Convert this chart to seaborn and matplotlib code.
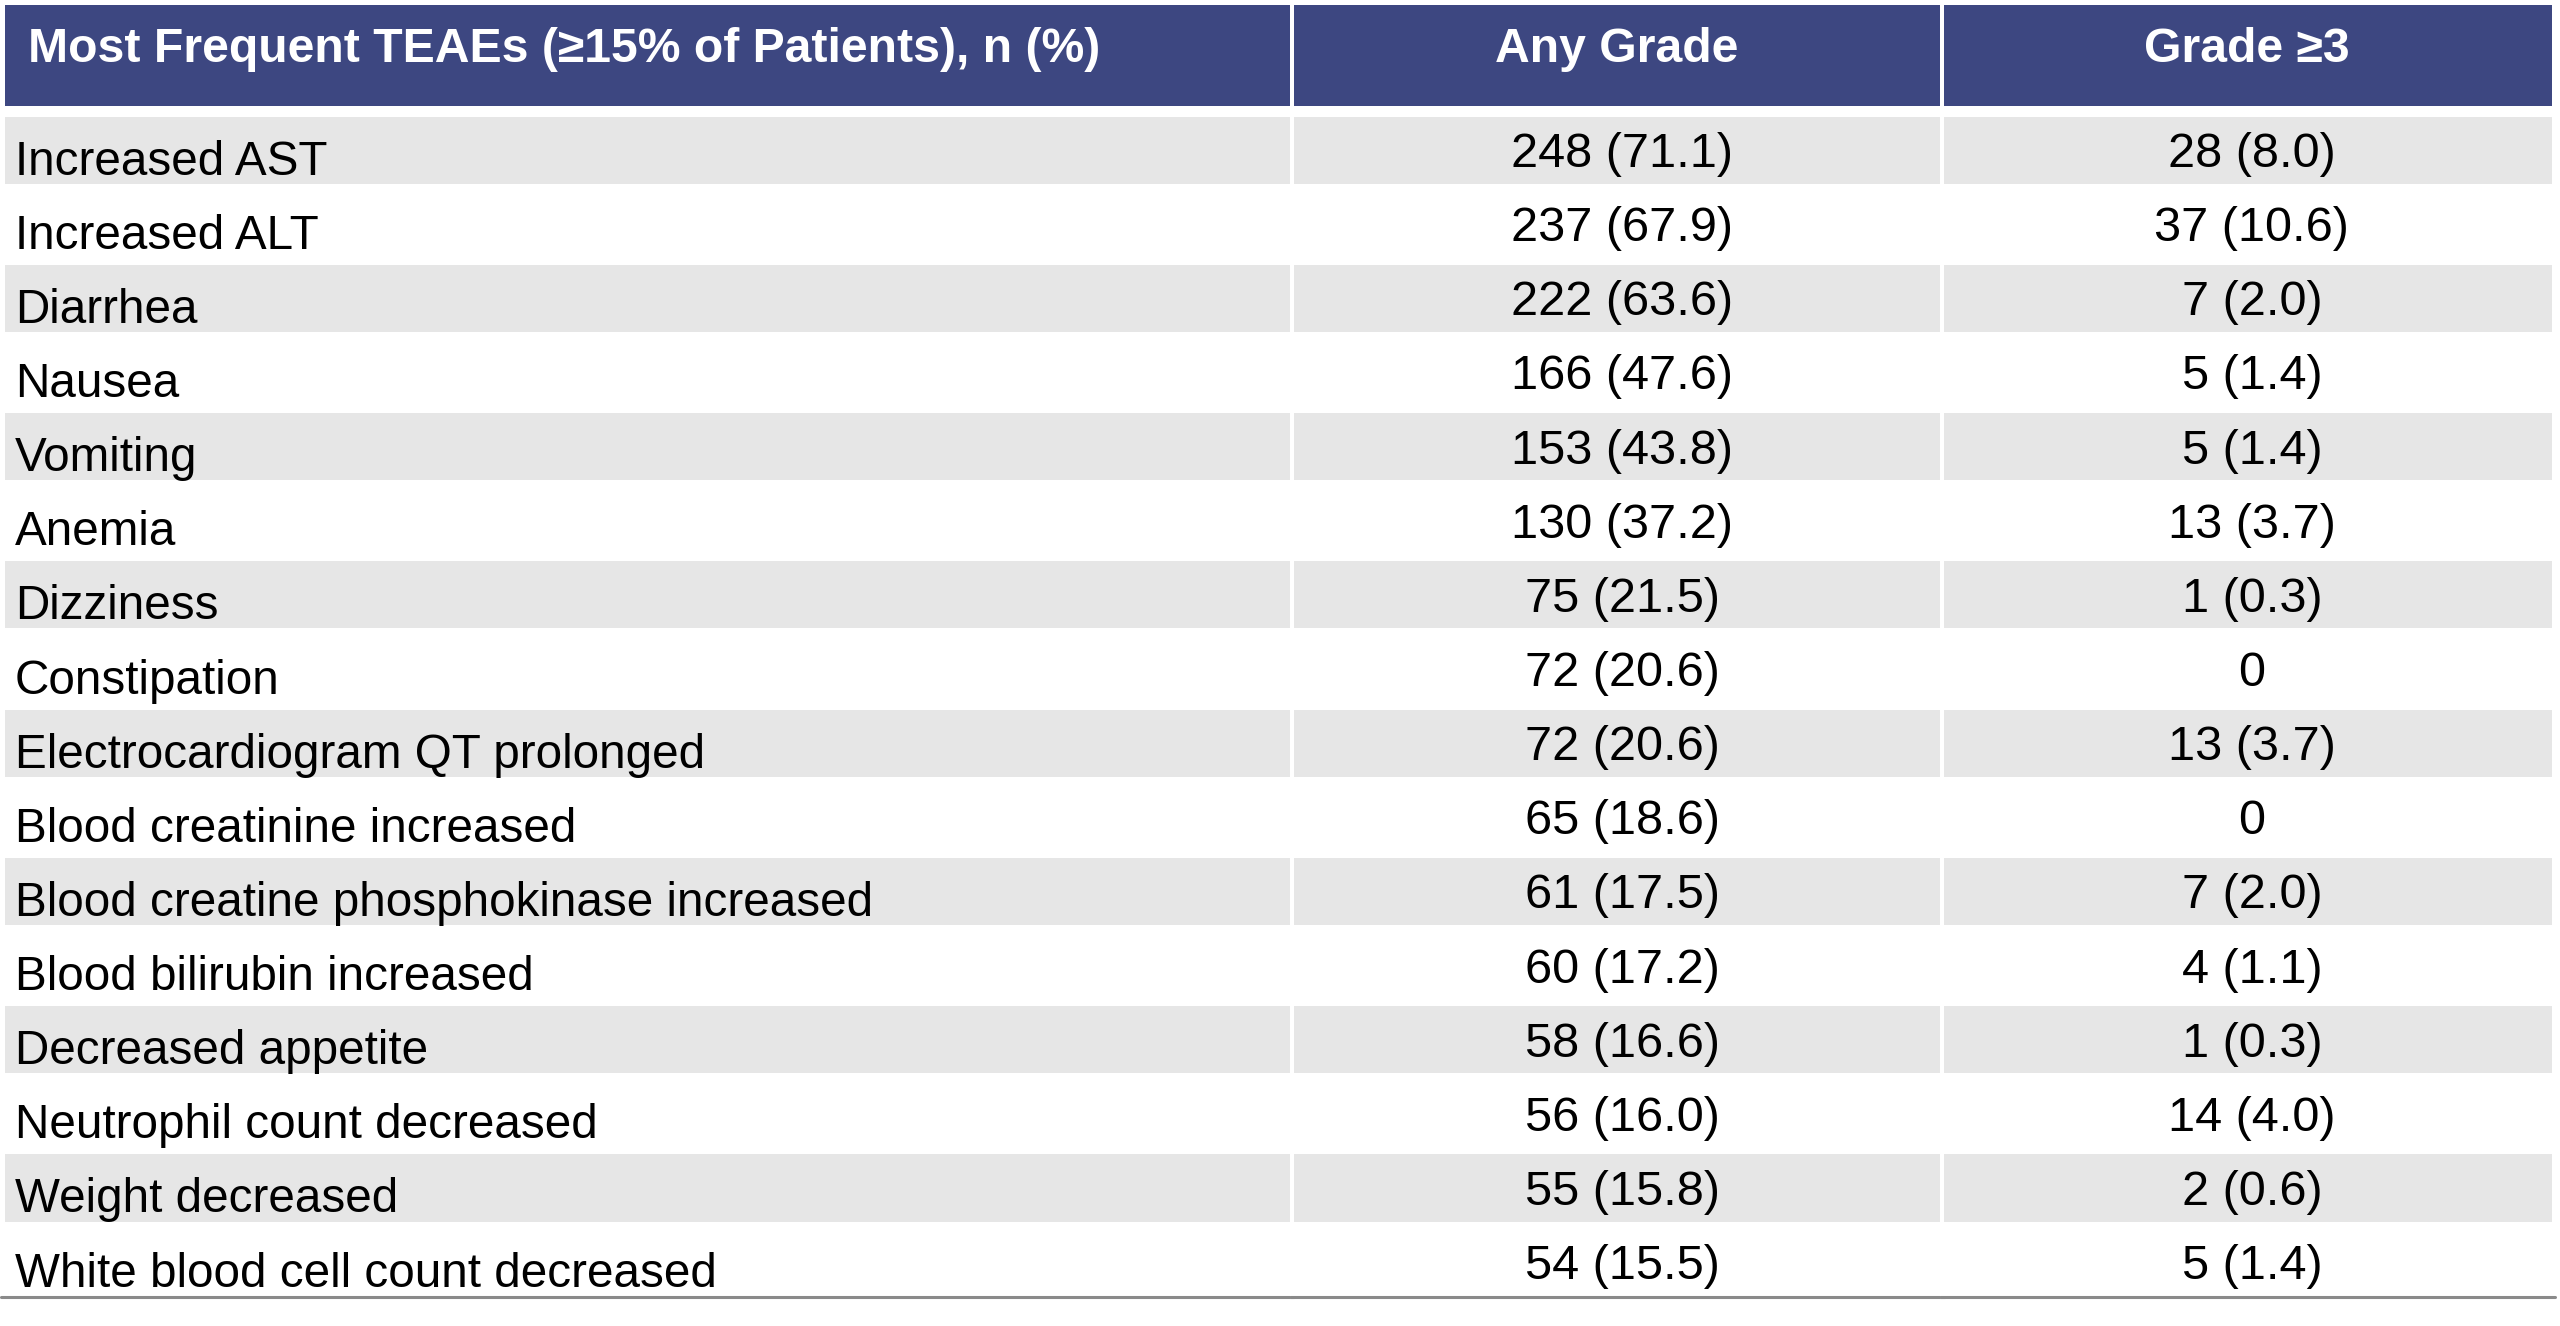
import numpy as np
import pandas as pd
import matplotlib
matplotlib.use("Agg")
import matplotlib.pyplot as plt
from matplotlib.colors import ListedColormap
import seaborn as sns

# table content
header = ["Most Frequent TEAEs (\u226515% of Patients), n (%)", "Any Grade", "Grade \u22653"]
events = ["Increased AST", "Increased ALT", "Diarrhea", "Nausea", "Vomiting", "Anemia",
          "Dizziness", "Constipation", "Electrocardiogram QT prolonged",
          "Blood creatinine increased", "Blood creatine phosphokinase increased",
          "Blood bilirubin increased", "Decreased appetite", "Neutrophil count decreased",
          "Weight decreased", "White blood cell count decreased"]
any_n = [248, 237, 222, 166, 153, 130, 75, 72, 72, 65, 61, 60, 58, 56, 55, 54]
any_pct = [71.1, 67.9, 63.6, 47.6, 43.8, 37.2, 21.5, 20.6, 20.6, 18.6, 17.5, 17.2, 16.6, 16.0, 15.8, 15.5]
g3_n = [28, 37, 7, 5, 5, 13, 1, 0, 13, 0, 7, 4, 1, 14, 2, 5]
g3_pct = [8.0, 10.6, 2.0, 1.4, 1.4, 3.7, 0.3, 0.0, 3.7, 0.0, 2.0, 1.1, 0.3, 4.0, 0.6, 1.4]

NAVY = "#3D4781"
GRAY = "#E6E6E6"


def fmt(n, p):
    return f"{n} ({p:.1f})" if n else "0"


df = pd.DataFrame({"event": events,
                   "any": [fmt(n, p) for n, p in zip(any_n, any_pct)],
                   "g3": [fmt(n, p) for n, p in zip(g3_n, g3_pct)]})
df["stripe"] = [1 if i % 2 == 0 else 0 for i in range(len(df))]

sns.set_style("white")
plt.rcParams["font.family"] = ["Liberation Sans", "DejaVu Sans"]

W, H = 2560, 1326
fig = plt.figure(figsize=(W / 100, H / 100), dpi=100)


def px_axes(x0, y0, x1, y1):
    return fig.add_axes([x0 / W, 1 - y1 / H, (x1 - x0) / W, (y1 - y0) / H])


cols = [(0.5, 1293.5), (1289.5, 1944.5), (1939.5, 2554.5)]

# header cells
for j, (x0, x1) in enumerate(cols):
    ax = px_axes(x0, 0.5, x1, 108.5)
    sns.heatmap(np.ones((1, 1)), ax=ax, cmap=ListedColormap([NAVY]), cbar=False,
                linewidths=5, linecolor="white", xticklabels=False, yticklabels=False)
    if j == 0:
        ax.text(0.021, 0.569, header[j], ha="left", va="baseline", color="white",
                fontsize=34.7, fontweight="bold")
    else:
        ax.text(0.5, 0.569, header[j], ha="center", va="baseline", color="white",
                fontsize=34.7, fontweight="bold")

# body cells
text_cols = ["event", "any", "g3"]
for j, (x0, x1) in enumerate(cols):
    ax = px_axes(x0, 112.5, x1, 1298.7)
    sns.heatmap(df[["stripe"]].to_numpy(), ax=ax, cmap=ListedColormap(["white", GRAY]),
                vmin=0, vmax=1, cbar=False, linewidths=5, linecolor="white",
                xticklabels=False, yticklabels=False)
    for i, s in enumerate(df[text_cols[j]]):
        if j == 0:
            ax.text(0.011, i + 0.837, s, ha="left", va="baseline", color="black", fontsize=34.3)
        else:
            ax.text(0.508, i + 0.735, s, ha="center", va="baseline", color="black", fontsize=35)
    ax.axhline(len(df) - 0.02, color="#8A8A8A", linewidth=2.2, clip_on=False)

fig.savefig("out.png", dpi=100)
